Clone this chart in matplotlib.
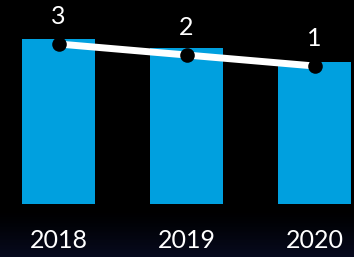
import numpy as np
import matplotlib.pyplot as plt

years = ["2018", "2019", "2020"]
bar_values = [165, 156, 142]
rank_values = [3, 2, 1]

W, H = 354, 257
fig = plt.figure(figsize=(W / 100, H / 100), dpi=100)
fig.patch.set_facecolor("black")

# faint navy fade at the bottom
bg = fig.add_axes([0, 0, 1, 1])
grad = np.linspace(0, 1, 256).reshape(-1, 1)
bg.imshow(np.clip((grad - 0.82) / 0.18, 0, 1) ** 1.2, cmap=plt.matplotlib.colors.LinearSegmentedColormap.from_list("fade", ["#000000", "#070a1e"]),
          aspect="auto", extent=[0, 1, 0, 1], origin="upper")
bg.axis("off")

ax = fig.add_axes([0, 0, 1, 1])
ax.patch.set_alpha(0)
x = np.arange(len(years))
ax.bar(x, bar_values, width=0.57, color="#00a0df", zorder=2)
ax.set_xlim(-58.5 / 128, (W - 58.5) / 128)
ax.set_ylim(-53, H - 53)
ax.axis("off")

for xi, lab in zip(x, years):
    ax.text(xi, -37, lab, ha="center", va="center", color="white",
            fontsize=18, family="Lato")

ax2 = ax.twinx()
ax2.plot(x, rank_values, color="white", lw=5, solid_capstyle="butt", zorder=3)
ax2.scatter(x, rank_values, s=110, color="black", zorder=4, linewidths=0)
ax2.set_ylim(1 - 191 / 11, 3 + 44 / 11)
ax2.axis("off")

for xi, v in zip(x, rank_values):
    ax2.annotate(str(v), (xi, v), xytext=(0, 20), textcoords="offset points",
                 ha="center", va="center", color="white", fontsize=18,
                 family="Lato")

fig.savefig("out.png", dpi=100, facecolor=fig.get_facecolor())
